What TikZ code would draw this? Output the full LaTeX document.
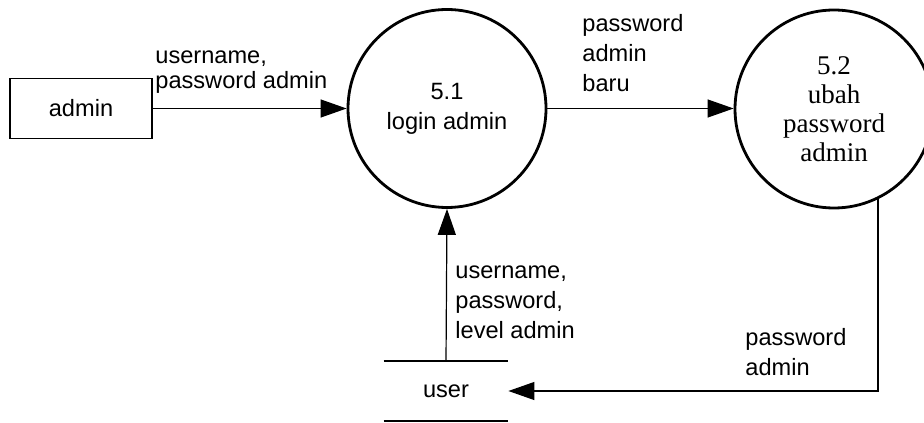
\documentclass[tikz,border=0pt]{standalone}
\usepackage{fontspec}
\setmainfont{Liberation Sans}
\newfontfamily\serifface{Liberation Serif}
\usetikzlibrary{arrows.meta,positioning}
\tikzset
{
    process/.style   = {circle, draw=black, line width=1.4pt, align=center, minimum size=99pt, inner sep=0pt},
    entity/.style    = {rectangle, draw=black, line width=0.7pt, minimum width=71pt, minimum height=30pt},
    datastore/.style = {minimum width=62pt, minimum height=29.5pt, inner sep=0pt},
    flowlabel/.style = {anchor=west, align=left, inner sep=0pt, font=\fontsize{11.8}{15}\selectfont},
    flow/.style      = {line width=0.6pt, -{Triangle[length=13pt,width=9pt]}}
}

\begin{document}
\begin{tikzpicture}[x=0.5pt,y=-0.5pt,font=\fontsize{11.8}{15}\selectfont]
\useasboundingbox (0,0) rectangle (924,422);
\node [entity] at (81,108.5) (admin) {admin};
\node [process] at (447,108.5) (p51) {5.1\\login admin};
\node [process,font=\serifface\fontsize{13.5}{14.5}\selectfont] at (834,109) (p52) {5.2\\ubah\\password\\admin};
\node [datastore] at (446,391) (user) {user};
\draw [line width=1pt] (user.north west) -- (user.north east);
\draw [line width=1pt] (user.south west) -- (user.south east);
% flows
\draw [flow] (admin) -- (p51);
\draw [flow] (p51) -- (p51 -| p52.west);
\draw [flow] (user.north) -- (p51.south);
\draw [flow] (p52.-64) |- (user.east);
% labels
\node [flowlabel,font=\fontsize{11.8}{12.5}\selectfont] at (155,72) (l1) {username,\\password admin};
\node [flowlabel] at (582,53) (l2) {password\\admin\\baru};
\node [flowlabel] at (455,302) (l3) {username,\\password,\\level admin};
\node [flowlabel] at (745,352) (l4) {password\\admin};
\end{tikzpicture}
\end{document}
